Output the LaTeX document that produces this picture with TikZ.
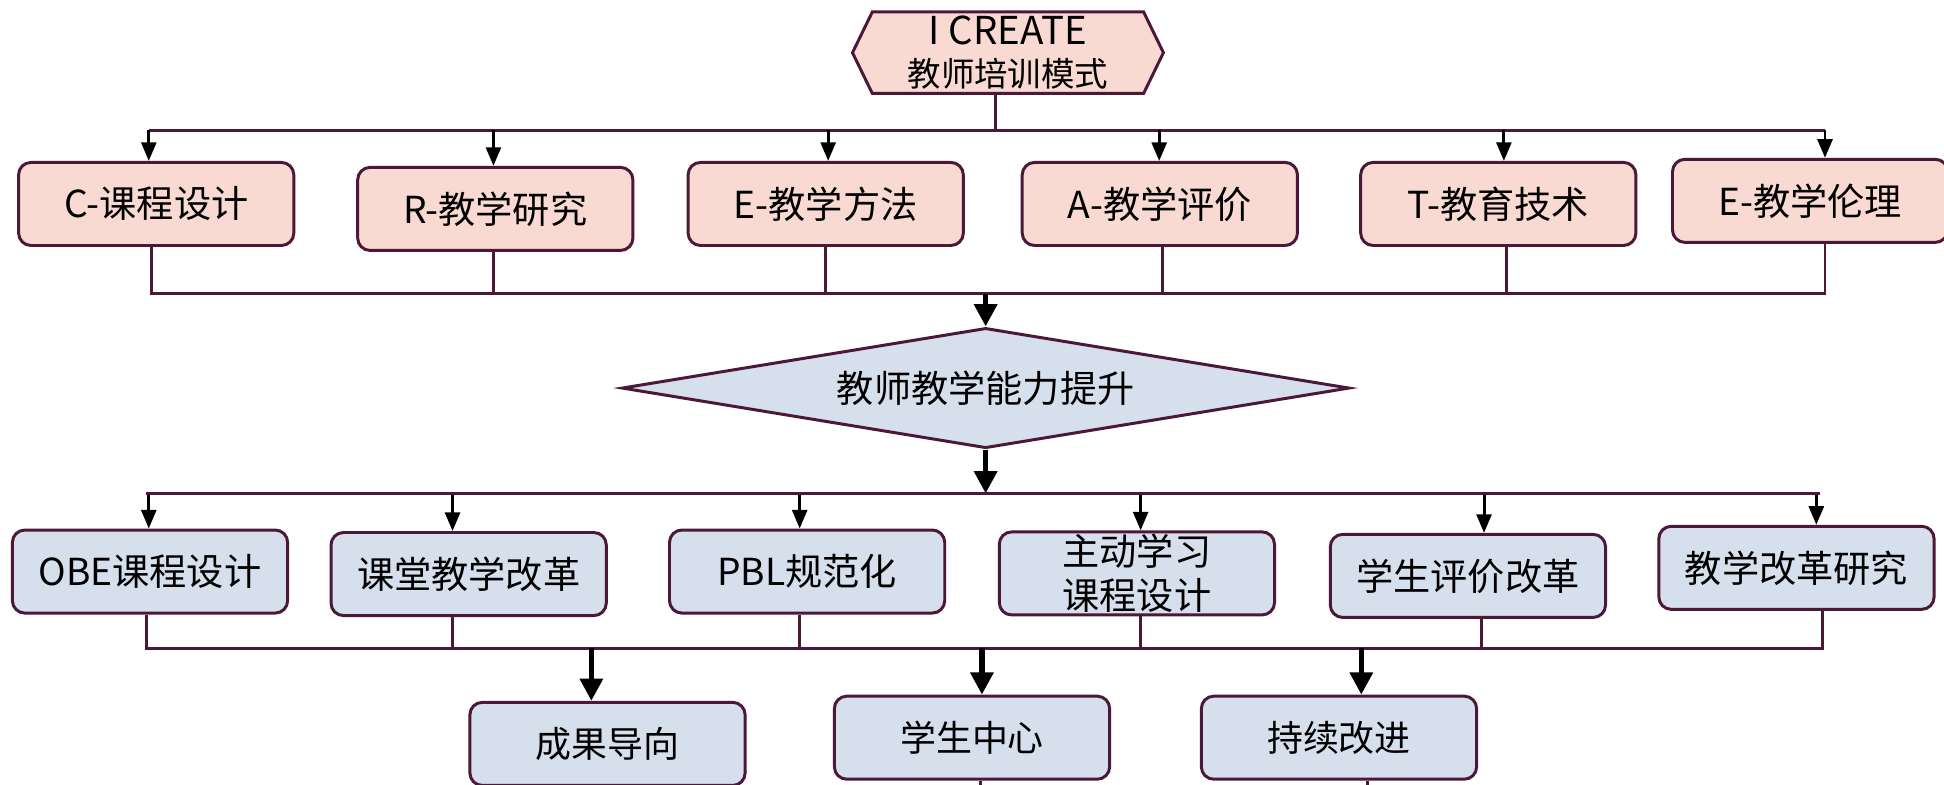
\documentclass[tikz,border=0pt]{standalone}
\usepackage{fontspec}
\setmainfont{Noto Sans CJK SC}
\usetikzlibrary{shapes.geometric,arrows.meta,backgrounds}
\definecolor{linec}{RGB}{75,25,55}
\definecolor{pinkf}{RGB}{249,218,211}
\definecolor{bluef}{RGB}{214,223,236}
\begin{document}
\begin{tikzpicture}[x=0.5pt,y=-0.5pt,
  bus/.style={draw=linec,line width=1.2pt},
  boxbase/.style={draw=linec,line width=1.2pt,rounded corners=5pt,minimum width=111pt,minimum height=33.5pt,inner sep=0pt,align=center,font=\fontsize{15}{17.5}\selectfont},
  pbox/.style={boxbase,fill=pinkf},
  bbox/.style={boxbase,fill=bluef},
  thinarr/.style={draw=black,line width=1.2pt,-{Triangle[length=7.5pt,width=6pt]}},
  thickarr/.style={draw=black,line width=2.2pt,-{Triangle[length=9pt,width=9pt]}},
]
\useasboundingbox (0,0) rectangle (1568,633);

% top hexagon
\node[minimum width=125pt,minimum height=32.5pt,inner sep=0pt,align=center,font=\fontsize{13.5}{17}\selectfont] (hex) at (813,42.5) {{\fontsize{15.5}{17}\selectfont I CREATE}\\教师培训模式};
\begin{scope}[on background layer]
\draw[bus,fill=pinkf] ([xshift=8pt]hex.north west) -- ([xshift=-8pt]hex.north east) -- (hex.east) -- ([xshift=-8pt]hex.south east) -- ([xshift=8pt]hex.south west) -- (hex.west) -- cycle;
\end{scope}

% top row boxes
\node[pbox] (c)  at (126,164.5) {C-课程设计};
\node[pbox] (r)  at (399.5,168.5) {R-教学研究};
\node[pbox] (e)  at (666,164.5) {E-教学方法};
\node[pbox] (a)  at (935.5,164.5) {A-教学评价};
\node[pbox] (t)  at (1208.5,164.5) {T-教育技术};
\node[pbox] (e2) at (1460,162) {E-教学伦理};

% distribution bus 1
\coordinate (hs) at (803,105);
\draw[bus] (hs |- hex.south) -- (hs);
\coordinate (tl) at (120,105);
\coordinate (tr) at (1472,105);
\draw[bus] (tl) -- (tr);
\foreach \n/\x in {c/120,r/398,e/668,a/935,t/1213,e2/1472}{
  \coordinate (ta\n) at (\x,105);
  \draw[thinarr] (ta\n) -- (ta\n |- \n.north);
}

% collection bus 1
\coordinate (bl1) at (122,237);
\coordinate (br1) at (1472,237);
\draw[bus] (bl1 |- c.south) -- (bl1) -- (br1) -- (br1 |- e2.south);
\foreach \n/\x in {r/398,e/666,a/938,t/1215}{
  \coordinate (ba\n) at (\x,237);
  \draw[bus] (ba\n |- \n.south) -- (ba\n);
}

% diamond
\node[diamond,draw=linec,line width=1.2pt,fill=bluef,aspect=6,minimum width=293.5pt,minimum height=48.5pt,inner sep=0pt,font=\fontsize{15}{17.5}\selectfont] (dia) at (795,313) {教师教学能力提升};
\coordinate (m1) at (795,237);
\draw[thickarr] (m1) -- (dia.north);
\coordinate (m2) at (795,398);
\draw[thickarr] (dia.south) -- (m2);

% second row boxes
\node[bbox] (o)  at (121,461) {OBE课程设计};
\node[bbox] (k)  at (378,463) {课堂教学改革};
\node[bbox] (p)  at (651,461) {PBL规范化};
\node[bbox] (z)  at (917,462.5) {主动学习\\课程设计};
\node[bbox] (x)  at (1184,464.5) {学生评价改革};
\node[bbox] (j)  at (1449,458) {教学改革研究};

% distribution bus 2
\coordinate (dl) at (118,398);
\coordinate (dr) at (1468,398);
\draw[bus] (dl) -- (dr);
\foreach \n/\x in {o/120,k/365,p/645,z/920,x/1197,j/1465}{
  \coordinate (da\n) at (\x,399);
  \draw[thinarr] (da\n) -- (da\n |- \n.north);
}

% collection bus 2
\coordinate (bl2) at (118,523);
\coordinate (br2) at (1470,523);
\draw[bus] (bl2 |- o.south) -- (bl2) -- (br2) -- (br2 |- j.south);
\foreach \n/\x in {k/365,p/645,z/920,x/1195}{
  \coordinate (bb\n) at (\x,523);
  \draw[bus] (bb\n |- \n.south) -- (bb\n);
}

% third row boxes
\node[bbox,font=\fontsize{14.5}{17}\selectfont] (sa) at (490,600) {成果导向};
\node[bbox,font=\fontsize{14.5}{17}\selectfont] (sb) at (784,595) {学生中心};
\node[bbox,font=\fontsize{14.5}{17}\selectfont] (sc) at (1080,595) {持续改进};
\foreach \n/\x in {sa/477,sb/792,sc/1098}{
  \coordinate (ca\n) at (\x,523);
  \draw[thickarr] (ca\n) -- (ca\n |- \n.north);
}

% stubs leaving the picture
\coordinate (s1) at (791,645);
\coordinate (s2) at (1103,645);
\draw[bus] (s1 |- sb.south) -- (s1);
\draw[bus] (s2 |- sc.south) -- (s2);
\end{tikzpicture}
\end{document}
